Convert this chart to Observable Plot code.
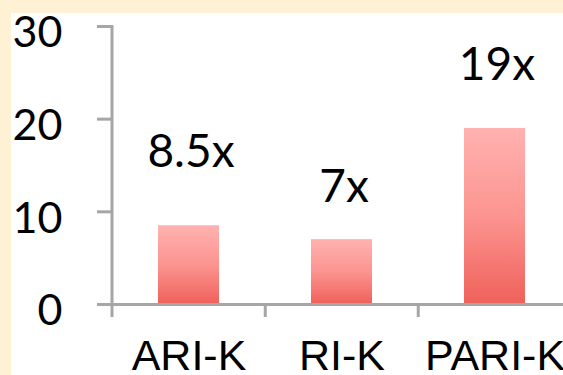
<!DOCTYPE html>
<html>
<head>
<meta charset="utf-8">
<script src="https://cdn.jsdelivr.net/npm/d3@7"></script>
<script src="https://cdn.jsdelivr.net/npm/@observablehq/plot@0.6"></script>
<style>
  html, body { margin: 0; padding: 0; }
  body { width: 563px; height: 375px; background: #FFF2D4; overflow: hidden; }
  #chart { position: absolute; left: 11px; top: 13px; }
  #chart svg { background: #FFFFFF; overflow: visible; display: block; }
</style>
</head>
<body>
<div id="chart"></div>
<script>
// ---- data ----
const categories = ["ARI-K", "RI-K", "PARI-K"];
const values = [8.5, 7, 19];
const labels = ["8.5x", "7x", "19x"];
const yTicks = [0, 10, 20, 30];

// ---- build table ----
const data = categories.map((c, i) => ({category: c, value: values[i], label: labels[i]}));

// label heights (data units above zero) as placed in the original slide
const labelY = [14.8, 11.1, 24.2];

const axisGray = "#A6A6A6";

function axesAndSeparators(index, scales, vals, dims) {
  const x = scales.x, y = scales.y;
  const g = d3.create("svg:g").attr("stroke", axisGray).attr("stroke-width", 3);
  // vertical axis line
  g.append("line")
    .attr("x1", dims.marginLeft).attr("x2", dims.marginLeft)
    .attr("y1", y(30) - 1).attr("y2", y(0) + 13);
  // category separators at band boundaries
  const bw = x.bandwidth();
  const step = bw / (1 - 0.6);
  for (const c of categories) {
    const bx = x(c) - (step - bw) / 2;
    if (bx <= dims.marginLeft + 1) continue;
    g.append("line")
      .attr("x1", bx).attr("x2", bx)
      .attr("y1", y(0)).attr("y2", y(0) + 13);
  }
  return g.node();
}

const plot = Plot.plot({
  width: 552,
  height: 362,
  marginLeft: 101,
  marginRight: 0,
  marginTop: 13,
  marginBottom: 71,
  style: {background: "#FFFFFF", overflow: "visible"},
  x: {domain: categories, range: [101, 560], paddingInner: 0.6, paddingOuter: 0.3, label: null},
  y: {domain: [0, 30], label: null},
  marks: [
    () => {
      const svg = d3.create("svg:defs");
      const lg = svg.append("linearGradient")
        .attr("id", "barGrad").attr("x1", 0).attr("y1", 0).attr("x2", 0).attr("y2", 1);
      lg.append("stop").attr("offset", "0%").attr("stop-color", "#FFB2B0");
      lg.append("stop").attr("offset", "50%").attr("stop-color", "#FC9490");
      lg.append("stop").attr("offset", "100%").attr("stop-color", "#F0615B");
      return svg.node();
    },
    Plot.barY(data, {x: "category", y: "value", fill: "url(#barGrad)"}),
    Plot.ruleY([0], {stroke: axisGray, strokeWidth: 3}),
    axesAndSeparators,
    // y tick marks
    Plot.axisY({
      ticks: yTicks,
      tickSize: 15,
      tickFormat: () => "",
      stroke: axisGray,
      strokeWidth: 3,
      label: null
    }),
    // y tick labels
    Plot.axisY({
      ticks: yTicks,
      tickSize: 0,
      tickPadding: 50,
      fontSize: 43,
      fontFamily: "Lato, 'Noto Sans', sans-serif",
      fill: "#000",
      dy: 7,
      label: null
    }),
    Plot.axisX({
      tickSize: 0,
      tickPadding: 35,
      fontSize: 43,
      fontFamily: "'Liberation Sans', Arial, sans-serif",
      fill: "#000",
      label: null
    }),
    Plot.text(data, {
      x: "category",
      y: (d, i) => labelY[i],
      text: "label",
      fontSize: 46,
      fontFamily: "Lato, 'Noto Sans', sans-serif",
      fill: "#000",
      lineAnchor: "bottom",
      dx: 2
    })
  ]
});

document.getElementById("chart").appendChild(plot);
</script>
</body>
</html>
